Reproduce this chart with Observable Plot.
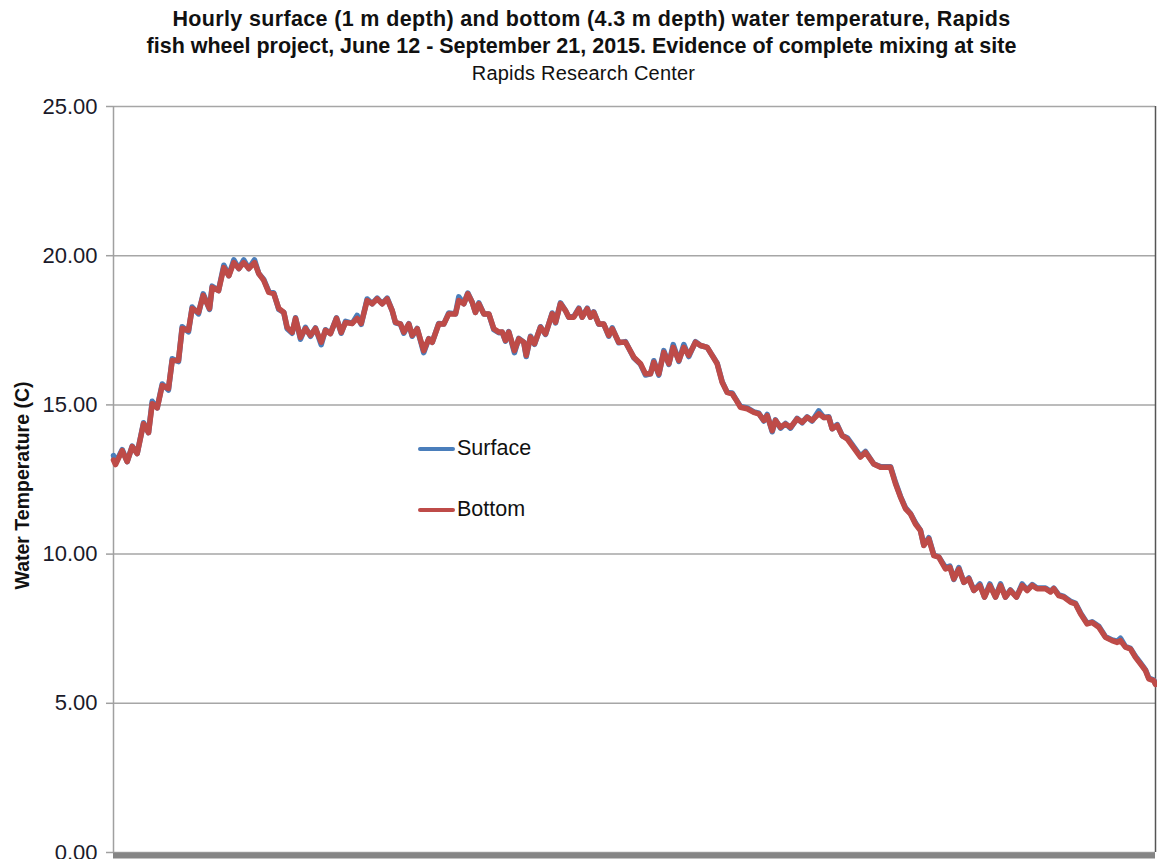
<!DOCTYPE html>
<html>
<head>
<meta charset="utf-8">
<script src="https://cdn.jsdelivr.net/npm/d3@7"></script>
<script src="https://cdn.jsdelivr.net/npm/@observablehq/plot@0.6"></script>
<style>
  html, body { margin: 0; padding: 0; background: #fff; }
  #wrap { position: relative; width: 1157px; height: 859px; overflow: hidden; font-family: "Liberation Sans", Arial, sans-serif; color: #111; }
  .tl { position: absolute; width: 1157px; text-align: center; white-space: nowrap; }
  .t1 { left: 13px; top: 6px; font-weight: bold; font-size: 21.5px; line-height: 27px; letter-spacing: 0.35px; }
  .t2 { left: 3px; top: 33px; font-weight: bold; font-size: 21.5px; line-height: 27px; }
  .t3 { left: 5px; top: 61px; font-size: 20px; line-height: 24px; letter-spacing: 0.2px; }
  #chart { position: absolute; left: 0; top: 90px; }
  .leg { position: absolute; font-size: 21.5px; line-height: 24px; }
  .sw { position: absolute; width: 37px; height: 4px; border-radius: 2px; }
</style>
</head>
<body>
<div id="wrap">
  <div class="tl t1">Hourly surface (1 m depth) and bottom (4.3 m depth) water temperature, Rapids</div>
  <div class="tl t2">fish wheel project, June 12 - September 21, 2015. Evidence of complete mixing at site</div>
  <div class="tl t3">Rapids Research Center</div>
  <div id="chart"></div>
  <div class="sw" style="left:418px; top:447px; background:#4a7ebb;"></div>
  <div class="leg" style="left:457px; top:436px;">Surface</div>
  <div class="sw" style="left:418px; top:508px; background:#be4b48;"></div>
  <div class="leg" style="left:457px; top:497px;">Bottom</div>
</div>
<script>
// Days since June 12, 2015 00:00
const dayOffset = [
  0.0, 0.2, 0.85, 1.34, 1.83, 2.32, 2.94, 3.43, 3.79, 4.28, 4.77, 5.38, 5.75, 6.36, 6.72, 7.34, 7.70, 8.32, 8.78, 9.40,
  9.66, 10.28, 10.80, 11.29, 11.78, 12.27, 12.75, 13.24, 13.80, 14.22, 14.71, 15.20, 15.69, 16.18, 16.67, 17.00, 17.49, 17.82, 18.30, 18.79,
  19.28, 19.77, 20.33, 20.75, 21.24, 21.83, 22.29, 22.71, 23.37, 23.85, 24.25, 24.83, 25.32, 25.81, 26.30, 26.79, 27.28, 27.60, 28.09, 28.42,
  28.91, 29.24, 29.73, 30.37, 30.86, 31.20, 31.84, 32.33, 32.82, 33.48, 33.80, 34.29, 34.68, 35.11, 35.43, 35.76, 36.25, 36.74, 37.23, 37.72,
  38.05, 38.37, 38.69, 39.25, 39.67, 40.16, 40.40, 40.82, 41.21, 41.80, 42.29, 42.94, 43.27, 43.75, 44.24, 44.57, 45.06, 45.55, 45.88, 46.37,
  46.69, 47.01, 47.50, 47.99, 48.48, 48.82, 49.46, 50.12, 50.93, 51.59, 52.08, 52.56, 52.89, 53.38, 53.87, 54.36, 54.79, 55.34, 55.83, 56.31,
  56.97, 57.46, 58.12, 58.60, 59.09, 59.58, 60.07, 60.56, 60.88, 61.37, 62.03, 62.68, 63.17, 63.66, 63.99, 64.48, 64.80, 65.29, 65.78, 66.27,
  66.92, 67.41, 67.90, 68.39, 69.04, 69.53, 70.02, 70.35, 70.84, 71.33, 71.82, 73.12, 73.61, 74.42, 75.08, 76.06, 76.55, 77.04, 77.53, 78.01,
  78.50, 78.99, 79.32, 79.81, 80.30, 80.79, 81.44, 81.87, 82.26, 82.75, 83.24, 83.73, 84.22, 84.81, 85.26, 85.78, 86.34, 86.83, 87.31, 87.80,
  88.39, 88.95, 89.44, 89.93, 90.42, 91.23, 91.72, 92.04, 92.53, 93.02, 93.68, 94.17, 94.66, 95.31, 95.80, 96.45, 97.10, 97.76, 98.25, 98.57,
  99.06, 99.55, 100.04, 100.53, 101.02, 101.34, 101.83, 102.0
];
// Bottom (4.3 m) temperature, deg C
const bottomTemp = [
  13.15, 13.0, 13.47, 13.1, 13.6, 13.37, 14.37, 14.07, 15.04, 14.9, 15.65, 15.55, 16.49, 16.49, 17.56, 17.5, 18.23, 18.1, 18.67, 18.23,
  18.94, 18.83, 19.6, 19.33, 19.77, 19.57, 19.77, 19.57, 19.77, 19.4, 19.17, 18.77, 18.73, 18.23, 18.1, 17.6, 17.43, 17.9, 17.26, 17.56,
  17.33, 17.56, 17.1, 17.5, 17.39, 17.9, 17.43, 17.76, 17.73, 17.9, 17.73, 18.5, 18.39, 18.55, 18.39, 18.55, 18.16, 17.77, 17.71, 17.44,
  17.71, 17.33, 17.55, 16.82, 17.21, 17.1, 17.71, 17.71, 18.05, 18.05, 18.5, 18.39, 18.72, 18.44, 18.1, 18.39, 18.05, 18.05, 17.55, 17.44,
  17.44, 17.16, 17.44, 16.82, 17.21, 17.1, 16.66, 17.27, 17.05, 17.6, 17.38, 18.05, 17.77, 18.39, 18.16, 17.94, 17.94, 18.22, 17.94, 18.22,
  17.94, 18.1, 17.71, 17.71, 17.33, 17.55, 17.1, 17.1, 16.6, 16.38, 16.04, 16.04, 16.43, 16.04, 16.76, 16.38, 16.93, 16.49, 16.93, 16.66,
  17.1, 16.99, 16.93, 16.66, 16.38, 15.76, 15.42, 15.37, 15.2, 14.92, 14.87, 14.75, 14.7, 14.48, 14.64, 14.14, 14.48, 14.25, 14.36, 14.25,
  14.53, 14.42, 14.58, 14.48, 14.7, 14.58, 14.58, 14.2, 14.31, 13.97, 13.86, 13.25, 13.41, 13.02, 12.91, 12.91, 12.36, 11.91, 11.52, 11.35,
  11.01, 10.79, 10.29, 10.51, 9.95, 9.9, 9.5, 9.56, 9.17, 9.5, 9.06, 9.17, 8.78, 8.95, 8.56, 8.95, 8.56, 8.95, 8.56, 8.78,
  8.56, 8.95, 8.78, 8.95, 8.84, 8.84, 8.73, 8.84, 8.61, 8.56, 8.39, 8.33, 8.0, 7.66, 7.71, 7.55, 7.21, 7.1, 7.04, 7.1,
  6.88, 6.82, 6.54, 6.32, 6.1, 5.82, 5.76, 5.63
];
// Surface (1 m) temperature, deg C
const surfaceTemp = [
  13.3, 13.05, 13.5, 13.1, 13.62, 13.37, 14.4, 14.07, 15.12, 14.9, 15.7, 15.5, 16.55, 16.45, 17.62, 17.45, 18.28, 18.05, 18.72, 18.2,
  18.98, 18.83, 19.68, 19.33, 19.86, 19.57, 19.86, 19.57, 19.86, 19.4, 19.2, 18.8, 18.75, 18.2, 18.1, 17.55, 17.4, 17.92, 17.2, 17.6,
  17.3, 17.58, 17.02, 17.52, 17.39, 17.92, 17.4, 17.8, 17.73, 18.0, 17.7, 18.55, 18.39, 18.58, 18.39, 18.58, 18.16, 17.75, 17.71, 17.4,
  17.72, 17.3, 17.56, 16.75, 17.22, 17.1, 17.73, 17.71, 18.08, 18.05, 18.62, 18.39, 18.75, 18.44, 18.1, 18.42, 18.05, 18.05, 17.52, 17.42,
  17.44, 17.14, 17.46, 16.75, 17.23, 17.1, 16.62, 17.3, 17.03, 17.62, 17.36, 18.08, 17.75, 18.42, 18.16, 17.94, 17.96, 18.24, 17.94, 18.24,
  17.94, 18.12, 17.7, 17.71, 17.3, 17.58, 17.08, 17.12, 16.58, 16.36, 16.0, 16.04, 16.48, 16.0, 16.82, 16.36, 17.02, 16.46, 17.02, 16.62,
  17.12, 16.99, 16.93, 16.66, 16.4, 15.78, 15.42, 15.4, 15.22, 14.95, 14.9, 14.77, 14.72, 14.46, 14.68, 14.1, 14.5, 14.22, 14.38, 14.22,
  14.55, 14.4, 14.6, 14.46, 14.8, 14.58, 14.6, 14.2, 14.34, 13.97, 13.9, 13.28, 13.44, 13.02, 12.93, 12.93, 12.4, 11.93, 11.55, 11.36,
  11.05, 10.8, 10.3, 10.55, 9.97, 9.9, 9.55, 9.6, 9.15, 9.55, 9.05, 9.2, 8.78, 9.0, 8.56, 9.0, 8.56, 9.0, 8.56, 8.8,
  8.56, 9.0, 8.8, 8.98, 8.86, 8.86, 8.75, 8.86, 8.63, 8.58, 8.42, 8.35, 8.03, 7.68, 7.73, 7.58, 7.23, 7.12, 7.08, 7.18,
  6.9, 6.84, 6.57, 6.35, 6.12, 5.85, 5.78, 5.65
];
const yTicks = [0, 5, 10, 15, 20, 25];
const yLabel = "Water Temperature (C)";
const xDomain = [0, 102];

const surface = dayOffset.map((d, i) => ({day: d, temp: surfaceTemp[i]}));
const bottom = dayOffset.map((d, i) => ({day: d, temp: bottomTemp[i]}));

const chart = Plot.plot({
  width: 1157,
  height: 769,
  marginTop: 16,
  marginBottom: 7,
  marginLeft: 113,
  marginRight: 2,
  style: {fontFamily: '"Liberation Sans", Arial, sans-serif', background: "#fff"},
  x: {domain: xDomain, axis: null},
  y: {domain: [0, 25], ticks: yTicks, tickFormat: d => d.toFixed(2)},
  marks: [
    Plot.gridY(yTicks, {stroke: "#a6a6a6", strokeOpacity: 1, strokeWidth: 1.5}),
    Plot.ruleX([xDomain[0]], {stroke: "#a0a0a0", strokeWidth: 1.5}),
    Plot.ruleX([xDomain[1]], {stroke: "#555", strokeWidth: 1.5}),
    Plot.axisY(yTicks, {
      tickSize: 7, tickPadding: 9, fontSize: 22, stroke: "#a0a0a0", strokeWidth: 1.5,
      fill: "#1a1a2a", label: null, tickFormat: d => d.toFixed(2)
    }),
    Plot.text([yLabel], {frameAnchor: "left", textAnchor: "middle", rotate: -90, dx: -91, dy: 6, fontWeight: "bold", fontSize: 19.5, fill: "#111"}),
    Plot.line(surface, {x: "day", y: "temp", stroke: "#4a7ebb", strokeWidth: 5.5, strokeLinejoin: "round", strokeLinecap: "round"}),
    Plot.line(bottom, {x: "day", y: "temp", stroke: "#be4b48", strokeWidth: 5.5, strokeLinejoin: "round", strokeLinecap: "round"}),
    Plot.ruleY([0], {stroke: "#858585", strokeWidth: 6, dy: 3})
  ]
});
document.getElementById("chart").appendChild(chart);
</script>
</body>
</html>
